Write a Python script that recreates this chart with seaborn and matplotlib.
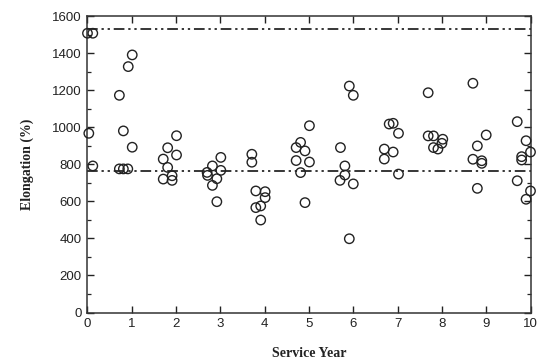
import matplotlib
matplotlib.use("Agg")
import matplotlib.pyplot as plt
from matplotlib.ticker import MultipleLocator
import seaborn as sns
import pandas as pd

service_year = [
    0.00, 0.12, 0.03, 0.12,
    0.72, 0.81, 0.92, 1.01, 1.01, 0.72, 0.81, 0.91,
    1.71, 1.81, 2.01, 2.01, 1.81, 1.71, 1.91, 1.91,
    2.82, 3.01, 3.01, 2.70, 2.71, 2.92, 2.82, 2.92,
    3.71, 3.71, 3.80, 4.01, 4.01, 3.80, 3.91, 3.91,
    4.71, 4.81, 4.91, 5.01, 4.71, 5.01, 4.81, 4.91,
    5.91, 6.00, 5.71, 5.81, 5.81, 5.70, 6.00, 5.91,
    6.81, 6.90, 7.02, 6.70, 6.90, 6.70, 7.02,
    7.69, 7.69, 7.81, 8.02, 8.00, 7.81, 7.91,
    8.70, 9.00, 8.80, 8.70, 8.90, 8.90, 8.80,
    9.70, 9.90, 10.00, 9.80, 9.80, 9.70, 10.00, 9.90,
]
elongation = [
    1507, 1507, 967, 791,
    1172, 980, 1327, 1390, 892, 775, 775, 775,
    828, 889, 954, 850, 783, 720, 738, 713,
    791, 837, 767, 756, 740, 722, 686, 598,
    854, 811, 656, 652, 620, 566, 575, 499,
    890, 918, 872, 1008, 820, 812, 755, 593,
    1222, 1172, 890, 791, 742, 713, 694, 398,
    1017, 1021, 967, 882, 866, 828, 747,
    1186, 953, 953, 935, 913, 890, 882,
    1237, 958, 899, 827, 819, 805, 670,
    1030, 927, 866, 841, 823, 711, 656, 611,
]
reference_levels = [1530, 765]

df = pd.DataFrame({"Service Year": service_year, "Elongation": elongation})

sns.set_theme(style="ticks")
plt.rcParams["font.family"] = ["Liberation Sans", "DejaVu Sans"]

fig = plt.figure(figsize=(5.41, 3.62), dpi=100)
ax = fig.add_axes([0.1617, 0.1367, 0.8189, 0.8191])

for lvl in reference_levels:
    ax.axhline(lvl, color="black", lw=1.1, dashes=[7, 2.5, 1.5, 2.5, 1.5, 2.5], zorder=1)

sns.scatterplot(data=df, x="Service Year", y="Elongation", ax=ax,
                marker="o", s=46, facecolor="none", edgecolor="#222222",
                linewidth=1.0, zorder=3, clip_on=False)

ax.set_xlim(0, 10)
ax.set_ylim(0, 1600)
ax.xaxis.set_major_locator(MultipleLocator(1))
ax.yaxis.set_major_locator(MultipleLocator(200))
ax.yaxis.set_minor_locator(MultipleLocator(100))
ax.tick_params(axis="both", which="major", direction="in", length=5, width=1.0,
               top=True, right=True, labelsize=9.5, colors="#222222", pad=4)
ax.tick_params(axis="y", which="minor", direction="in", length=3, width=0.9,
               left=True, right=True)
ax.tick_params(axis="x", which="minor", bottom=False, top=False)
for sp in ax.spines.values():
    sp.set_linewidth(1.1)
    sp.set_color("#333333")

ax.set_xlabel("Service Year", fontfamily="Liberation Serif", fontweight="bold",
              fontsize=10, labelpad=12, color="#222222")
ax.set_ylabel("Elongation (%)", fontfamily="Liberation Serif", fontweight="bold",
              fontsize=10, labelpad=13, color="#222222")

fig.savefig("out.png", dpi=100)
